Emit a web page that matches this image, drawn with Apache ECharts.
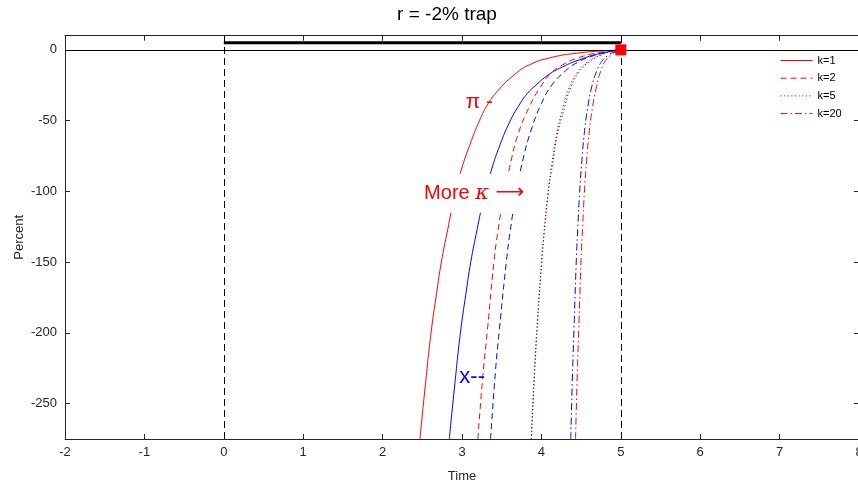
<!DOCTYPE html>
<html>
<head>
<meta charset="utf-8">
<script src="https://cdn.jsdelivr.net/npm/echarts@6/dist/echarts.min.js"></script>
<style>
html,body{margin:0;padding:0;background:#fff;overflow:hidden;}
#chart{width:858px;height:486px;}
</style>
</head>
<body>
<div id="chart"></div>
<script>
// ---------------- data ----------------
const titleText = 'r = -2% trap';
const xTickValues = [-2, -1, 0, 1, 2, 3, 4, 5, 6, 7, 8];
const yTickValues = [0, -50, -100, -150, -200, -250];
const kNames = ['k=1', 'k=2', 'k=5', 'k=20'];

// inflation (pi) paths, red
const piK1 = [[2.47,-275],[2.54,-236],[2.61,-200],[2.68,-172],[2.74,-150],[2.82,-127],[2.90,-105],[2.99,-85],[3.10,-67],[3.22,-50],[3.33,-38],[3.45,-29],[3.65,-18],[3.85,-10.5],[4.14,-5.2],[4.44,-2.4],[4.72,-0.9],[5,0]];
const piK2 = [[3.20,-275],[3.26,-232],[3.32,-198],[3.40,-151],[3.45,-129],[3.52,-105],[3.60,-83],[3.71,-59],[3.85,-40],[3.98,-27],[4.13,-16],[4.27,-10.5],[4.47,-5.5],[4.72,-2],[5,0]];
const piK5 = [[3.87,-275],[3.91,-228],[3.95,-190],[4.00,-150],[4.03,-130],[4.08,-102],[4.13,-81],[4.19,-60],[4.26,-43],[4.34,-28],[4.45,-16],[4.58,-8.5],[4.72,-4],[4.86,-1.3],[5,0]];
const piK20 = [[4.43,-275],[4.45,-232],[4.47,-198],[4.50,-148],[4.52,-124],[4.54,-102],[4.57,-78],[4.60,-59],[4.64,-42],[4.69,-27],[4.75,-14.5],[4.81,-7.5],[4.88,-3.5],[4.95,-1.2],[5,0]];

// output gap (x) paths, blue
const xK1 = [[2.84,-275],[2.91,-236],[2.98,-200],[3.05,-172],[3.11,-150],[3.19,-127],[3.27,-106],[3.37,-85],[3.48,-67],[3.60,-51],[3.72,-39],[3.82,-31],[3.93,-25],[4.08,-18],[4.23,-13],[4.48,-7],[4.74,-2.5],[5,0]];
const xK2 = [[3.36,-275],[3.42,-228],[3.47,-198],[3.56,-149],[3.61,-127],[3.68,-102],[3.77,-77],[3.875,-56],[4.00,-38],[4.13,-25],[4.30,-15],[4.45,-9],[4.62,-4.8],[4.82,-1.7],[5,0]];
const xK5 = [[3.875,-275],[3.915,-228],[3.955,-190],[4.005,-150],[4.035,-130],[4.085,-102],[4.14,-81],[4.20,-60],[4.28,-43],[4.36,-28],[4.47,-16],[4.60,-8.5],[4.74,-4],[4.87,-1.3],[5,0]];
const xK20 = [[4.37,-275],[4.39,-232],[4.41,-198],[4.44,-148],[4.46,-124],[4.48,-102],[4.51,-78],[4.54,-59],[4.58,-42],[4.63,-27],[4.70,-14.5],[4.77,-7.5],[4.85,-3.5],[4.93,-1.2],[5,0]];

const trapLine = [[0,5],[5,5]];
const endPoint = [[5,0]];
const verticalMarks = [0, 5];

// ---------------- styles ----------------
const FONT = "'Liberation Sans', Arial, Helvetica, sans-serif";
const AX = '#262626';
const RED = '#ff0000';
const BLUE = '#0000ff';
const dashTypes = ['solid', [6, 4], [1.2, 2.4], [7, 3, 1.5, 3]];

const piCurves = [piK1, piK2, piK5, piK20];
const xCurves = [xK1, xK2, xK5, xK20];

const series = [];
piCurves.forEach((d, i) => {
  series.push({
    name: kNames[i], type: 'line', data: d, symbol: 'none', showSymbol: false,
    smooth: 0.5, z: 3,
    lineStyle: { color: RED, width: 1, type: dashTypes[i] },
    itemStyle: { color: RED }
  });
});
xCurves.forEach((d, i) => {
  series.push({
    name: 'x ' + kNames[i], type: 'line', data: d, symbol: 'none', showSymbol: false,
    smooth: 0.5, z: 3,
    lineStyle: { color: BLUE, width: 1, type: dashTypes[i] },
    itemStyle: { color: BLUE }
  });
});

// reference lines
series.push({
  name: 'ref', type: 'line', data: [], silent: true, z: 2,
  markLine: {
    silent: true, symbol: ['none', 'none'], label: { show: false },
    animation: false,
    data: [
      { yAxis: 0, lineStyle: { color: '#000', width: 1, type: 'solid' } },
      ...verticalMarks.map(v => ({ xAxis: v, lineStyle: { color: '#000', width: 1, type: [7, 4] } }))
    ]
  }
});
series.push({
  name: 'trap', type: 'line', data: trapLine, symbol: 'none', z: 4,
  lineStyle: { color: '#000', width: 3 }
});
series.push({
  name: 'end', type: 'scatter', data: endPoint, symbol: 'rect', symbolSize: 11, z: 6,
  itemStyle: { color: RED, opacity: 1 }
});

// text annotations (anchored at data coordinates)
series.push({
  name: 'annot', type: 'scatter', symbolSize: 0, z: 10, silent: true,
  itemStyle: { opacity: 1 },
  data: [
    { value: [3.39, -36.7], label: { show: true, position: 'left', distance: 0, formatter: 'π -', color: RED, fontSize: 21, fontFamily: FONT } },
    { value: [2.46, -101.3], label: { show: true, position: 'right', distance: 0,
        formatter: '{a|More }{k|κ}{r| ⟶}', backgroundColor: '#fff', padding: [9, 5],
        rich: {
          a: { color: RED, fontSize: 20, fontFamily: FONT },
          k: { color: RED, fontSize: 21, fontStyle: 'italic', fontFamily: "'DejaVu Serif', serif" },
          r: { color: RED, fontSize: 20, fontFamily: "'DejaVu Sans', sans-serif" }
        } } },
    { value: [3.29, -230.9], label: { show: true, position: 'left', distance: 0, formatter: 'x--', color: BLUE, fontSize: 22, fontFamily: FONT } }
  ]
});

const option = {
  animation: false,
  backgroundColor: '#fff',
  textStyle: { fontFamily: FONT },
  graphic: [{
    type: 'text', x: 447, y: 15,
    style: { text: titleText, textAlign: 'center', textVerticalAlign: 'middle', font: "19px 'Liberation Sans', Arial, sans-serif", fill: '#000' }
  }],
  legend: {
    data: kNames, orient: 'vertical', left: 780, top: 55, padding: 0,
    itemWidth: 32, itemHeight: 12, itemGap: 6.7,
    itemStyle: { opacity: 0 },
    lineStyle: { width: 1 },
    textStyle: { fontSize: 11, color: '#000', fontFamily: FONT },
    selectedMode: false
  },
  grid: { left: 65, right: -1, top: 35.7, bottom: 47, outerBoundsMode: 'none', containLabel: false },
  xAxis: [{
    type: 'value', position: 'bottom', min: -2, max: 8, interval: 1,
    name: 'Time', nameLocation: 'middle', nameGap: 31,
    nameTextStyle: { fontSize: 13, color: AX, fontFamily: FONT },
    axisLine: { show: true, onZero: false, lineStyle: { color: AX, width: 1 } },
    axisTick: { show: true, inside: true, length: 5, lineStyle: { color: AX } },
    axisLabel: { show: true, fontSize: 13, color: AX, margin: 7, fontFamily: FONT, hideOverlap: false, showMaxLabel: true, showMinLabel: true,
      customValues: xTickValues },
    splitLine: { show: false }
  }, {
    type: 'value', position: 'top', min: -2, max: 8, interval: 1,
    axisLine: { show: true, onZero: false, lineStyle: { color: AX, width: 1 } },
    axisTick: { show: true, inside: true, length: 5, lineStyle: { color: AX } },
    axisLabel: { show: false },
    splitLine: { show: false }
  }],
  yAxis: [{
    type: 'value', position: 'left', min: -275, max: 10,
    name: 'Percent', nameLocation: 'middle', nameGap: 39, nameMoveOverlap: false,
    nameTextStyle: { fontSize: 13, color: AX, fontFamily: FONT },
    axisLine: { show: true, onZero: false, lineStyle: { color: AX, width: 1 } },
    axisTick: { show: true, inside: true, length: 5, lineStyle: { color: AX }, customValues: yTickValues },
    axisLabel: { show: true, fontSize: 13, color: AX, margin: 8, fontFamily: FONT, customValues: yTickValues },
    splitLine: { show: false }
  }, {
    type: 'value', position: 'right', min: -275, max: 10,
    axisLine: { show: true, onZero: false, lineStyle: { color: AX, width: 1 } },
    axisTick: { show: true, inside: true, length: 5, lineStyle: { color: AX }, customValues: yTickValues },
    axisLabel: { show: false },
    splitLine: { show: false }
  }],
  series: series
};

const chart = echarts.init(document.getElementById('chart'), null, { renderer: 'canvas' });
chart.setOption(option);
</script>
</body>
</html>
